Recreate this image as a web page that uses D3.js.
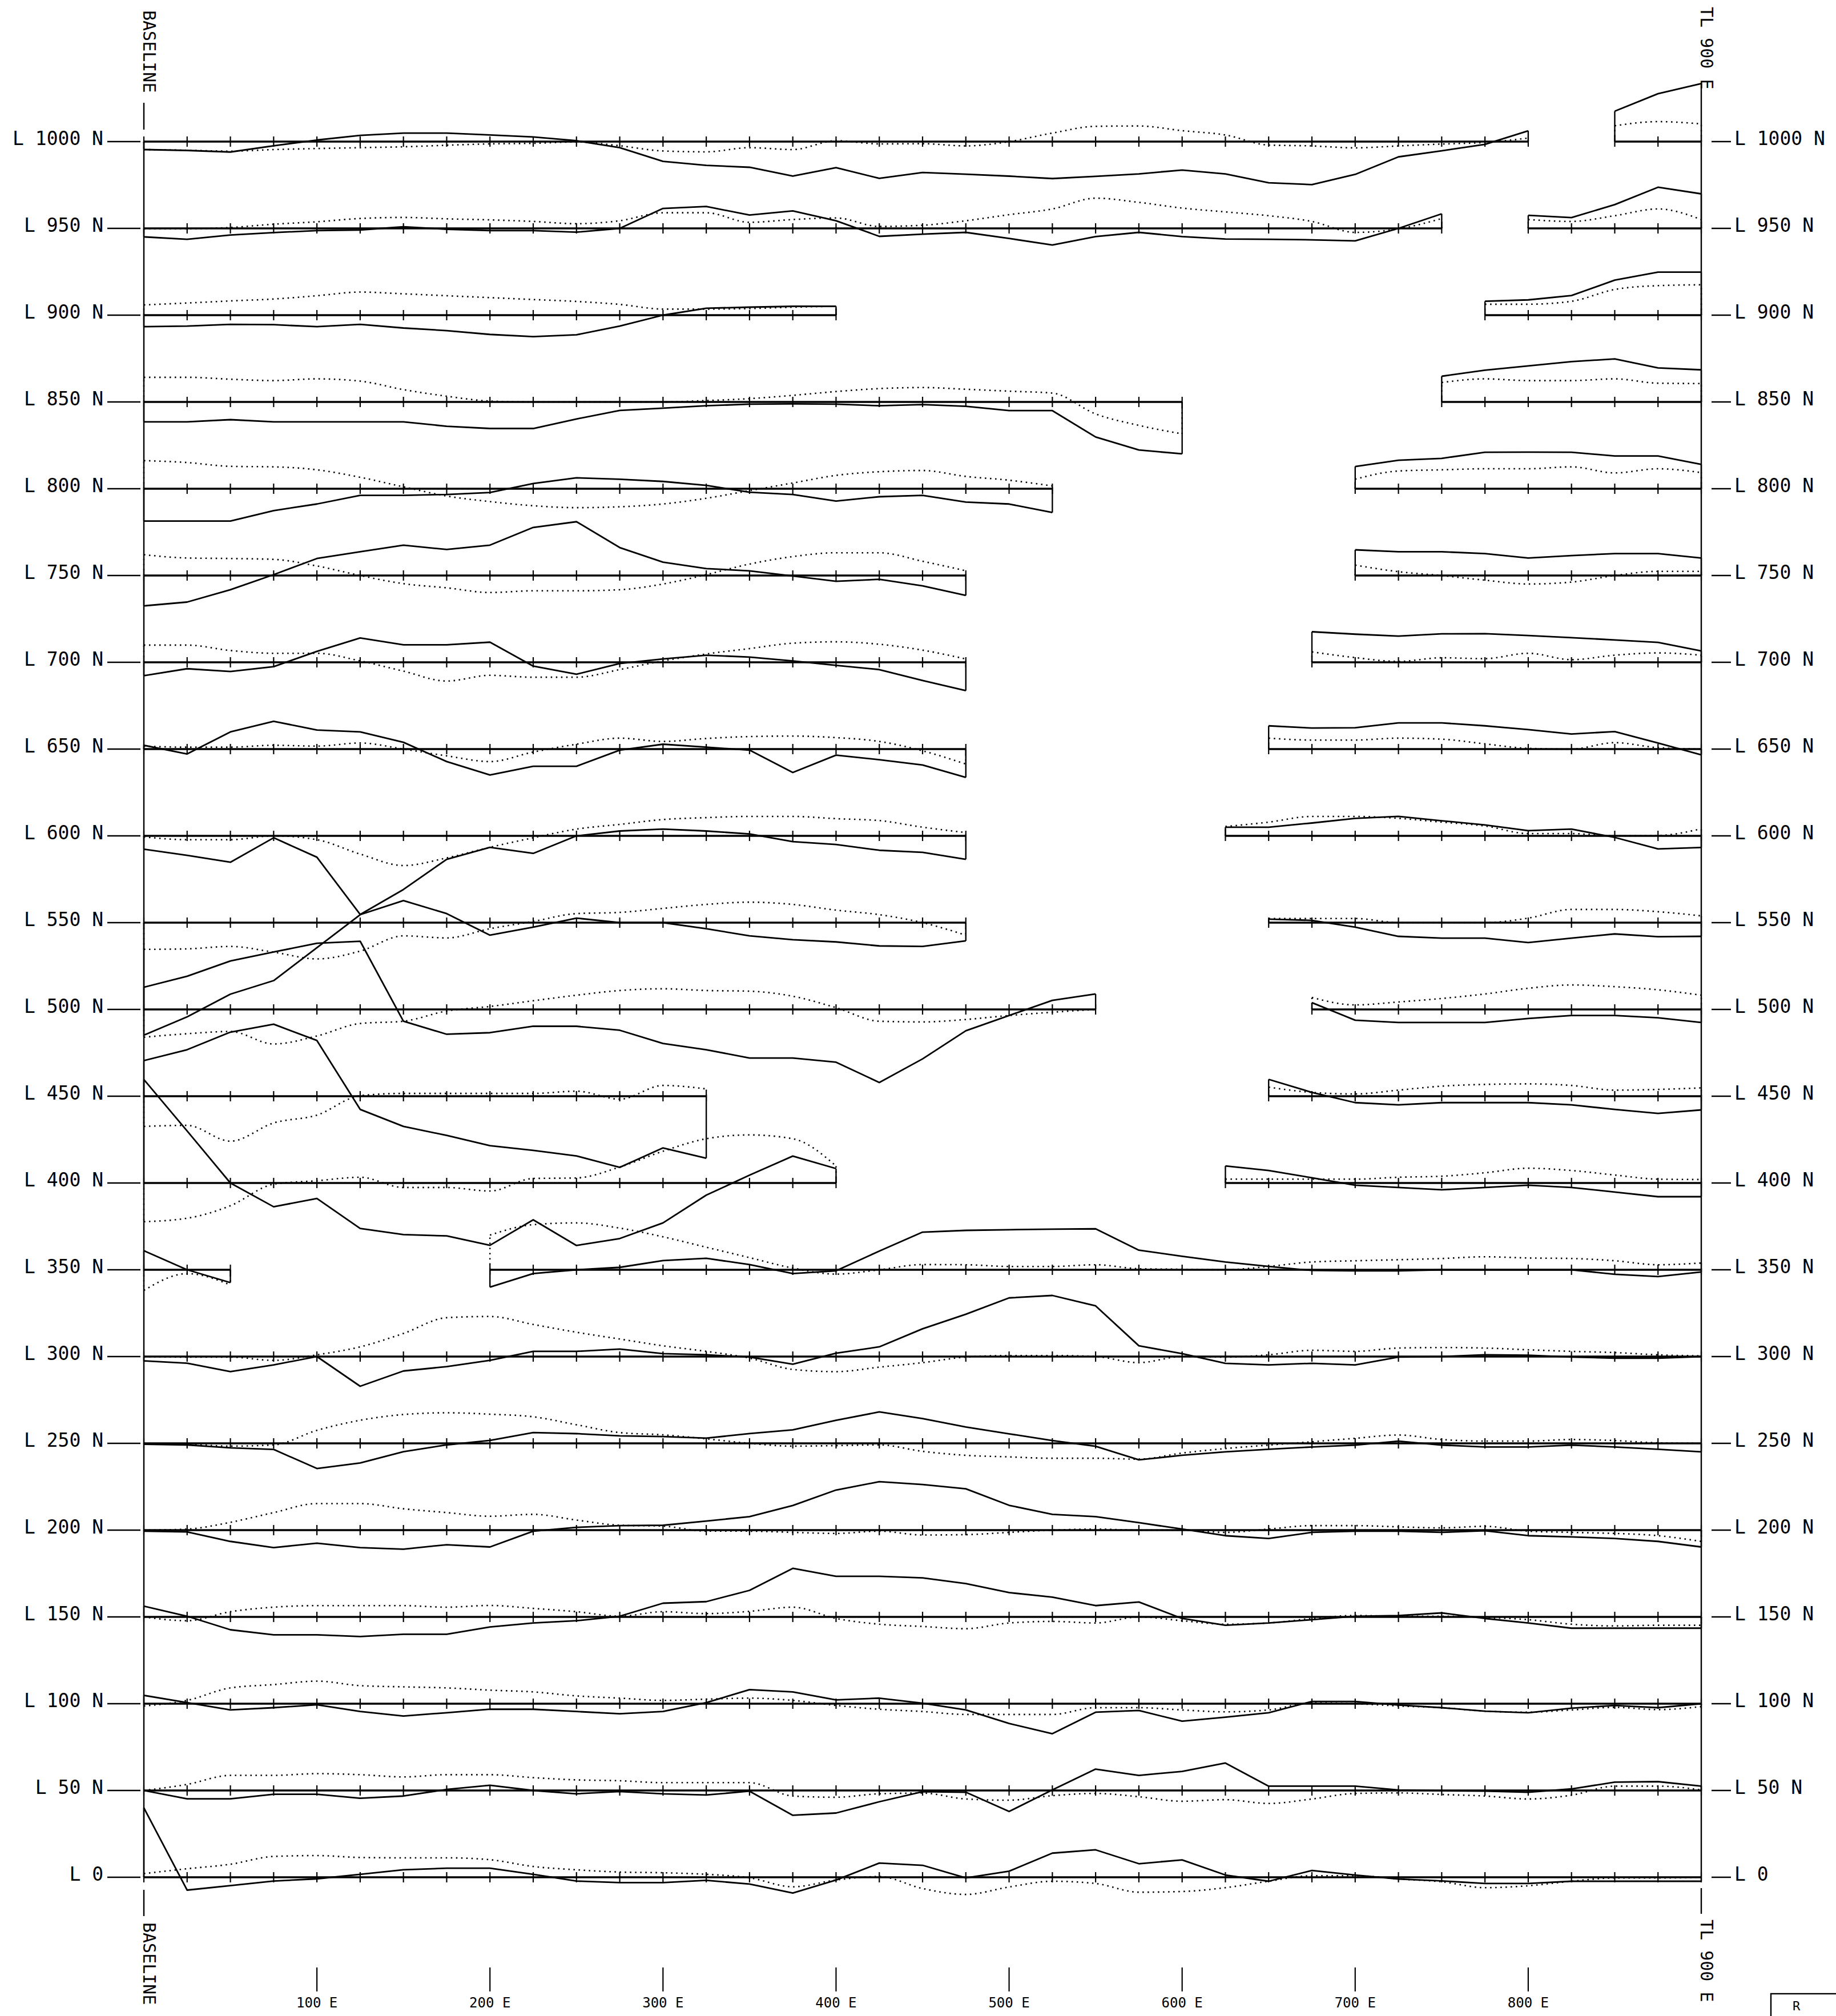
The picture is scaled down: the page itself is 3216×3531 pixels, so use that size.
<!DOCTYPE html>
<html>
<head>
<meta charset="utf-8">
<script src="https://cdn.jsdelivr.net/npm/d3@7"></script>
<style>
  body { margin: 0; background: #fff; }
  text { font-family: "DejaVu Sans Mono", monospace; fill: #000; }
</style>
</head>
<body>
<div id="chart"></div>
<script>
const width = 3216, height = 3531;

// survey grid
const northings = [1000, 950, 900, 850, 800, 750, 700, 650, 600, 550, 500, 450, 400, 350, 300, 250, 200, 150, 100, 50, 0];
const stations = d3.range(0, 901, 25);          // 25 m stations along each line, 0 E .. 900 E
const eastLabels = [100, 200, 300, 400, 500, 600, 700, 800];

// profile readings per line (null = not surveyed); one value per 25 m station
const sol1000 = [-4.6,-5.1,-6.0,-2.4,0.9,3.6,4.9,4.9,3.8,2.7, 0.5,-3.5,-11.4,-13.7,-14.8,-19.9,-15.0,-21.2,-17.8,-18.8, -19.9,-21.3,-20.0,-18.6,-16.4,-18.6,-23.7,-24.8,-18.9,-8.8, -5.3,-1.6,6.2,null,17.5,27.6,33.4];
const dot1000 = [-4.6,-5.0,-5.5,-4.6,-4.0,-3.5,-3.0,-2.1,-1.3,-1.0, -0.2,-2.4,-5.4,-5.9,-3.5,-4.6,0.5,-1.3,-1.2,-2.5, 0.0,4.9,8.8,9.0,6.3,3.8,-2.0,-2.5,-3.6,-2.5, -1.4,-0.5,2.0,null,9.1,11.5,10.2];
const sol950 = [-4.9,-6.3,-3.8,-2.4,-1.3,-0.9,0.9,-0.5,-1.3,-1.3, -2.2,0.0,11.5,12.6,7.7,10.1,4.4,-4.6,-3.3,-2.3, -5.8,-9.6,-4.7,-2.3,-4.7,-6.1,-6.3,-6.6,-7.2,0.0, 8.4,null,7.5,6.2,13.7,23.7,19.9];
const dot950 = [-0.2,-0.2,0.5,2.4,3.8,5.7,6.3,5.5,4.9,4.0, 2.7,4.4,9.0,9.0,3.5,5.1,6.0,1.1,1.8,4.4, 7.9,11.2,17.4,15.0,11.7,9.5,7.3,4.0,-2.3,-0.3, 5.7,null,5.1,4.0,7.3,11.2,5.1];
const sol900 = [-6.6,-6.3,-5.3,-5.5,-6.6,-5.3,-7.4,-8.9,-11.1,-12.4, -11.3,-6.3,0.0,4.0,4.6,5.1,5.1,null,null,null, null,null,null,null,null,null,null,null,null,null, null,8.0,8.8,11.3,20.2,24.8,24.8];
const dot900 = [5.9,7.0,8.2,9.3,11.2,13.3,12.3,11.2,10.1,9.0, 7.9,6.2,3.5,3.5,3.8,4.6,5.1,null,null,null, null,null,null,null,null,null,null,null,null,null, null,6.3,6.3,8.0,14.8,17.0,17.5];
const sol850 = [-11.5,-11.5,-10.2,-11.5,-11.5,-11.5,-11.5,-14.0,-15.3,-15.3, -9.8,-4.9,-3.6,-2.2,-1.3,-1.1,-1.3,-2.2,-1.5,-2.5, -5.0,-5.0,-20.2,-27.7,-29.9,null,null,null,null,null, 14.8,18.3,20.8,23.2,24.8,19.6,18.5];
const dot850 = [14.2,14.2,13.1,12.3,13.3,12.0,7.1,3.3,0.5,0.0, 0.0,0.0,0.0,0.8,1.9,3.8,6.0,7.7,8.3,7.3, 6.2,5.1,-6.9,-13.5,-18.4,null,null,null,null,null, 11.2,13.3,12.3,12.3,13.3,10.8,10.6];
const sol800 = [-18.6,-18.6,-18.6,-12.6,-8.8,-3.8,-3.8,-3.3,-2.2,3.0, 6.3,5.5,4.2,1.9,-2.0,-3.3,-7.1,-4.6,-3.8,-7.7, -8.8,-13.7,null,null,null,null,null,null,12.8,16.4, 17.5,21.0,21.1,21.0,18.9,18.9,14.0];
const dot800 = [16.2,15.1,12.9,12.6,10.9,6.6,1.1,-4.2,-7.4,-9.8, -10.9,-10.4,-8.8,-5.5,-1.1,3.3,7.7,9.8,10.5,7.1, 4.9,1.6,null,null,null,null,null,null,5.5,10.2, 10.9,11.5,11.5,12.6,9.1,11.5,9.3];
const sol750 = [-17.5,-15.3,-8.2,0.5,9.8,13.7,17.5,15.0,17.5,27.7, 31.0,16.1,7.7,4.0,2.7,-0.3,-3.3,-2.2,-6.0,-11.5, null,null,null,null,null,null,null,null,14.8,13.7, 13.7,12.6,10.1,11.5,12.6,12.6,10.1];
const dot750 = [12.0,10.1,9.8,9.3,5.5,0.0,-4.7,-7.1,-9.8,-8.8, -8.8,-8.2,-4.9,0.5,6.6,10.9,13.1,13.1,8.2,2.7, null,null,null,null,null,null,null,null,6.0,2.2, 0.0,-2.7,-4.9,-3.8,0.0,2.4,2.4];
const sol700 = [-7.7,-3.7,-5.3,-2.5,6.3,14.0,10.1,10.1,11.6,-2.2, -6.9,-0.7,1.9,4.1,3.0,0.8,-1.8,-4.2,-10.5,-16.3, null,null,null,null,null,null,null,17.6,16.2,15.1, 16.4,16.5,15.4,14.2,12.9,11.5,6.5];
const dot700 = [9.9,9.9,6.8,5.2,5.2,0.8,-5.1,-10.8,-7.5,-8.6, -8.6,-4.2,0.8,4.8,7.9,11.0,11.8,10.4,7.0,1.9, null,null,null,null,null,null,null,6.0,2.7,0.5, 2.6,2.1,5.2,1.5,4.1,5.4,4.1];
const sol650 = [2.2,-2.8,9.9,16.0,11.0,9.9,3.9,-7.2,-14.9,-9.9, -9.9,-0.6,2.8,1.1,-0.6,-13.5,-3.5,-6.1,-9.2,-16.3, null,null,null,null,null,null,13.4,12.1,12.3,15.1, 15.1,13.4,11.2,8.7,10.1,3.5,-3.3];
const dot650 = [1.7,1.1,1.1,2.2,1.7,3.5,0.0,-3.9,-7.2,-1.7, 2.8,6.3,4.4,6.1,7.2,7.5,6.6,4.4,-1.0,-8.6, null,null,null,null,null,null,6.3,5.2,5.2,6.3, 5.7,3.0,0.4,0.0,3.7,0.8,0.0];
const sol600 = [-7.7,-11.2,-15.2,-1.1,-12.3,-45.3,-30.9,-13.5,-6.6,-10.1, 0.0,2.8,3.9,2.8,1.1,-3.3,-5.0,-8.3,-9.5,-13.5, null,null,null,null,null,5.0,5.0,7.4,10.1,11.2, 8.7,6.3,3.0,3.9,-0.9,-7.5,-6.7];
const dot600 = [-0.6,-2.2,-2.2,0.0,-2.2,-10.5,-17.1,-12.7,-6.6,-1.1, 3.9,6.6,9.4,10.5,11.2,11.2,9.9,8.8,5.0,1.9, null,null,null,null,null,5.4,7.9,11.2,11.2,10.1, 7.9,5.7,1.3,1.3,0.0,0.2,4.1];
const sol550 = [-64.8,-54.3,-41.2,-33.4,-14.4,4.6,12.7,5.2,-7.2,-2.6, 2.6,0.0,0.0,-3.5,-7.6,-9.8,-11.1,-13.4,-13.7,-10.5, null,null,null,null,null,null,2.0,1.3,-2.6,-7.9, -8.9,-8.9,-11.5,-8.9,-6.5,-8.1,-7.9];
const dot550 = [-15.4,-15.1,-13.7,-17.0,-20.9,-16.4,-7.6,-8.8,-3.5,0.7, 5.2,5.9,8.2,10.5,11.8,10.5,7.2,4.6,0.0,-7.2, null,null,null,null,null,null,2.4,2.4,2.4,0.0, 0.0,0.0,2.6,7.6,7.6,6.3,3.9];
const sol500 = [12.8,19.1,27.9,33.1,38.1,39.3,-6.8,-14.3,-13.4,-9.7, -9.7,-12.0,-19.6,-23.2,-28.0,-28.0,-30.4,-42.1,-28.5,-12.3, -3.5,5.2,8.9,null,null,null,null,3.9,-6.2,-7.5, -7.5,-7.5,-5.2,-3.5,-3.5,-4.8,-7.5];
const dot500 = [-16.0,-14.0,-12.7,-19.9,-15.3,-8.1,-6.8,-0.9,1.7,5.0, 8.2,10.9,11.9,10.9,10.5,7.6,1.0,-6.8,-7.2,-5.8, -3.5,-1.6,0.0,null,null,null,null,6.9,2.6,4.3, 6.3,8.9,12.2,14.1,13.1,11.3,8.2];
const sol450 = [20.5,26.8,36.9,41.5,32.1,-7.6,-17.4,-22.6,-28.5,-31.2, -34.4,-41.0,-29.8,-35.7,null,null,null,null,null,null, null,null,null,null,null,null,9.7,2.2,-3.7,-5.0, -3.7,-3.7,-3.7,-5.0,-7.6,-9.9,-7.9];
const dot450 = [-17.4,-16.8,-25.9,-15.4,-10.9,0.3,1.6,1.6,1.6,1.6, 2.9,-1.7,6.2,4.2,null,null,null,null,null,null, null,null,null,null,null,null,5.2,2.2,1.3,3.5, 5.8,6.8,7.1,6.2,3.5,3.9,4.8];
const sol400 = [59.6,30.0,0.0,-13.7,-8.9,-26.2,-29.7,-30.5,-35.9,-21.2, -36.0,-32.0,-23.0,-7.0,4.5,15.5,8.3,null,null,null, null,null,null,null,null,9.8,7.2,3.0,-1.3,-2.6, -3.9,-2.6,-1.3,-2.6,-5.2,-7.9,-7.9];
const dot400 = [-22.3,-20.3,-13.1,-0.7,1.3,3.3,-2.6,-2.6,-4.6,2.6, 2.9,9.2,18.3,25.5,27.7,25.5,9.8,null,null,null, null,null,null,null,null,2.2,2.2,2.2,2.2,3.3, 3.9,5.9,8.5,7.2,4.6,2.2,2.0];
const sol350 = [11.0,0.0,-7.4,null,null,null,null,null,-10.0,-2.2, 0.0,1.4,5.3,6.6,3.0,-2.2,-0.6,10.8,21.7,22.7, 23.1,23.4,23.6,11.3,7.8,4.5,1.9,-0.4,-0.6,-0.6, 0.0,0.0,0.0,0.0,-2.6,-3.9,-1.3];
const dot350 = [-11.9,-2.2,-8.7,null,null,null,null,null,20.0,26.0, 27.0,24.0,19.0,13.0,7.0,1.0,-2.5,0.0,3.0,2.9, 1.9,1.9,2.9,0.6,0.3,0.0,1.9,4.5,5.2,5.8, 6.5,7.5,6.8,6.5,5.2,2.9,3.9];
const sol300 = [-2.5,-3.8,-8.7,-4.8,0.0,-17.1,-8.3,-5.8,-2.2,3.0, 3.0,4.3,1.7,1.0,-0.3,-4.4,1.9,5.6,16.0,24.4, 33.8,35.2,29.2,6.2,1.7,-3.9,-4.8,-3.9,-4.8,-0.3, 0.0,1.0,0.8,-0.3,-0.9,-0.9,0.0];
const dot300 = [0.0,-0.3,-0.3,-2.2,1.0,5.6,13.3,22.4,23.1,18.5, 14.0,10.1,6.2,3.0,-0.9,-7.4,-8.7,-6.1,-3.5,-0.3, 0.6,0.6,0.0,-3.5,0.0,-0.3,1.0,3.6,3.0,4.9, 5.2,4.9,3.9,3.0,2.3,1.0,0.4];
const sol250 = [-0.5,-0.9,-2.6,-3.5,-14.5,-11.3,-4.8,-0.9,1.7,6.2, 5.6,4.3,3.9,3.0,5.6,7.8,13.3,18.1,14.3,9.4, 5.5,1.6,-1.7,-9.5,-6.9,-4.9,-3.4,-2.1,-1.0,1.3, -1.0,-2.1,-2.1,-1.0,-2.1,-3.4,-4.9];
const dot250 = [0.0,-0.5,-1.6,-0.9,7.5,13.3,16.6,17.6,16.8,15.3, 10.7,6.2,4.9,2.6,0.0,-1.6,-1.3,-0.9,-4.6,-6.9, -7.8,-8.6,-8.6,-9.1,-5.6,-3.0,-1.0,0.9,2.9,4.8, 2.2,1.3,1.3,2.2,1.6,0.3,0.0];
const sol200 = [-0.6,-1.0,-6.5,-10.1,-7.5,-10.1,-11.0,-8.4,-9.7,-0.6, 1.6,2.6,2.8,5.2,7.8,14.2,23.1,27.9,26.3,23.8, 14.3,9.1,7.8,4.3,0.6,-3.2,-4.8,-1.3,-0.6,-0.6, -1.3,-0.4,-3.2,-3.9,-4.8,-6.5,-9.7];
const dot200 = [0.0,0.6,4.5,10.1,15.3,15.3,12.3,10.1,8.0,9.1, 5.8,2.8,2.3,-0.6,-0.6,-1.3,-1.9,-0.6,-2.8,-2.6, -1.3,0.0,0.6,0.0,0.0,-1.3,0.6,2.6,2.6,1.9, 1.3,2.2,-0.6,-1.3,-1.9,-3.2,-6.5];
const sol150 = [6.2,0.4,-7.4,-10.3,-10.3,-11.3,-10.0,-10.0,-5.8,-3.5, -2.2,0.4,7.9,8.8,15.3,28.0,23.4,23.4,22.5,19.2, 14.0,11.4,6.5,8.6,-0.9,-4.8,-3.5,-1.6,0.4,0.8, 2.3,-0.9,-3.5,-6.5,-6.5,-6.5,-6.5];
const dot150 = [0.0,-2.2,3.0,5.6,6.5,6.5,6.5,5.6,6.6,4.9, 3.0,0.4,3.0,1.9,3.2,5.6,-0.9,-4.2,-5.5,-6.8, -3.5,-2.6,-3.5,0.0,-2.2,-4.2,-3.5,-0.9,0.8,0.4, 0.4,-0.3,-1.6,-4.2,-5.2,-4.8,-4.8];
const sol100 = [4.8,0.6,-3.6,-2.3,-0.6,-4.5,-7.1,-5.2,-3.2,-3.2, -4.5,-5.8,-4.5,0.6,8.1,6.8,2.2,3.2,0.3,-3.6, -11.4,-17.3,-4.9,-3.9,-10.1,-7.8,-5.2,1.3,1.3,-0.8, -2.3,-4.3,-5.2,-2.6,-1.0,-2.3,0.0];
const dot100 = [-1.3,1.9,9.1,11.0,13.0,10.4,9.7,9.1,7.8,6.8, 4.5,3.2,1.9,2.6,3.2,1.9,-1.0,-3.2,-4.5,-6.2, -6.2,-6.2,-2.3,-2.3,-3.6,-4.7,-3.6,0.5,0.0,-1.3, -2.3,-4.3,-4.9,-3.6,-2.1,-3.4,-1.7];
const sol50 = [0.0,-4.8,-4.8,-2.2,-2.2,-4.5,-3.2,0.6,3.0,0.0, -1.9,-0.6,-1.9,-2.6,-0.4,-14.3,-13.0,-6.5,-0.7,-1.0, -12.1,0.3,12.3,8.7,11.0,15.8,2.5,2.5,2.5,0.3, -0.1,-0.4,-1.0,0.9,4.8,5.1,2.5];
const dot50 = [0.0,3.5,8.7,8.7,9.7,9.1,7.8,9.1,9.1,7.4, 6.1,5.6,4.5,4.5,4.5,-3.2,-3.9,-1.9,-1.5,-4.9, -5.6,-3.0,-1.7,-3.6,-6.2,-5.3,-7.5,-4.9,-1.7,-1.4, -2.3,-3.2,-4.9,-2.7,2.5,2.5,0.3];
const sol0 = [40.0,-7.4,-4.8,-2.2,-0.9,1.7,4.3,5.2,5.2,1.7, -2.2,-3.1,-3.1,-1.8,-3.9,-9.1,-1.6,8.2,6.9,-0.4, 3.5,13.9,15.8,7.8,10.0,1.3,-2.3,3.9,1.3,-1.0, -2.1,-3.6,-3.6,-2.3,-2.3,-2.3,-2.3];
const dot0 = [2.1,4.9,7.5,12.0,12.5,11.4,11.2,11.2,10.1,6.2, 4.3,3.0,2.6,1.7,-0.3,-5.5,-1.6,0.4,-6.5,-9.9, -5.6,-2.3,-3.6,-8.6,-8.2,-6.0,-2.3,0.9,0.9,-1.0, -2.6,-6.0,-4.9,-2.3,-0.4,-0.4,0.0];

const solids = [sol1000, sol950, sol900, sol850, sol800, sol750, sol700, sol650, sol600, sol550, sol500,
                sol450, sol400, sol350, sol300, sol250, sol200, sol150, sol100, sol50, sol0];
const dotteds = [dot1000, dot950, dot900, dot850, dot800, dot750, dot700, dot650, dot600, dot550, dot500,
                 dot450, dot400, dot350, dot300, dot250, dot200, dot150, dot100, dot50, dot0];

const svg = d3.select("#chart").append("svg")
    .attr("width", width)
    .attr("height", height)
    .attr("viewBox", `0 0 ${width} ${height}`);

svg.append("rect").attr("width", width).attr("height", height).attr("fill", "#fff");

const x = d3.scaleLinear().domain([0, 900]).range([252, 2980]);
const y = d3.scaleLinear().domain([0, 1000]).range([3288, 248]);
// profile amplitude: 50 units span one line interval
const amp = d3.scaleLinear().domain([0, 50]).range([0, y(50) - y(0)]);

// find surveyed pieces of a line (runs of non-null values)
function runs(arr) {
    const out = [];
    let start = null;
    arr.forEach((v, i) => {
        if (v != null && start === null) start = i;
        if (start !== null && (v == null || i === arr.length - 1)) {
            out.push([start, v == null ? i - 1 : i]);
            start = null;
        }
    });
    return out;
}

const black = "#000";

// frame: baseline (0 E) and tie line (900 E)
[0, 900].forEach(e => {
    svg.append("line")
        .attr("x1", x(e)).attr("x2", x(e))
        .attr("y1", y(1000)).attr("y2", y(0))
        .attr("stroke", black).attr("stroke-width", 2.4);
});
// little leaders next to the end captions
svg.append("line").attr("x1", x(0)).attr("x2", x(0)).attr("y1", 180).attr("y2", 227)
    .attr("stroke", black).attr("stroke-width", 2.4);
svg.append("line").attr("x1", x(0)).attr("x2", x(0)).attr("y1", 3310).attr("y2", 3356)
    .attr("stroke", black).attr("stroke-width", 2.4);
svg.append("line").attr("x1", x(900)).attr("x2", x(900)).attr("y1", 3307).attr("y2", 3352)
    .attr("stroke", black).attr("stroke-width", 2.4);

function vText(label, px, py) {
    svg.append("text")
        .attr("transform", `translate(${px},${py}) rotate(90)`)
        .attr("font-size", 30)
        .text(label);
}
vText("BASELINE", x(0) - 1, 18);
vText("BASELINE", x(0) - 1, 3367);
vText("TL 900 E", x(900) - 1, 12);
vText("TL 900 E", x(900) - 1, 3362);

const solidLine = d3.line().defined(d => d.v != null).x(d => x(d.e)).y(d => d.y0 + amp(d.v));
const dottedLine = d3.line().curve(d3.curveMonotoneX).defined(d => d.v != null).x(d => x(d.e)).y(d => d.y0 + amp(d.v));

northings.forEach((n, li) => {
    const solid = solids[li], dotted = dotteds[li];
    const y0 = y(n);
    const g = svg.append("g").attr("class", "line-" + n);

    // line labels both sides
    g.append("text").attr("x", 181).attr("y", y0 + 6).attr("text-anchor", "end")
        .attr("font-size", 33).text(n === 0 ? "L 0" : `L ${n} N`);
    g.append("line").attr("x1", 188).attr("x2", 246).attr("y1", y0).attr("y2", y0)
        .attr("stroke", black).attr("stroke-width", 2.4);
    g.append("line").attr("x1", 2998).attr("x2", 3032).attr("y1", y0).attr("y2", y0)
        .attr("stroke", black).attr("stroke-width", 2.4);
    g.append("text").attr("x", 3038).attr("y", y0 + 6)
        .attr("font-size", 33).text(n === 0 ? "L 0" : `L ${n} N`);

    runs(solid).forEach(([a, b]) => {
        const idx = d3.range(a, b + 1);
        // surveyed baseline
        g.append("line")
            .attr("x1", x(stations[a])).attr("x2", x(stations[b]))
            .attr("y1", y0).attr("y2", y0)
            .attr("stroke", black).attr("stroke-width", 3.4);
        // station ticks
        g.selectAll(null).data(idx).join("line")
            .attr("x1", i => x(stations[i])).attr("x2", i => x(stations[i]))
            .attr("y1", y0 - 9).attr("y2", y0 + 9)
            .attr("stroke", black).attr("stroke-width", 2.2);
        // end connectors back to the baseline
        [a, b].forEach(i => {
            g.append("line")
                .attr("x1", x(stations[i])).attr("x2", x(stations[i]))
                .attr("y1", y0).attr("y2", y0 + amp(solid[i]))
                .attr("stroke", black).attr("stroke-width", 2.4);
            g.append("line")
                .attr("x1", x(stations[i])).attr("x2", x(stations[i]))
                .attr("y1", y0).attr("y2", y0 + amp(dotted[i]))
                .attr("stroke", black).attr("stroke-width", 2.4)
                .attr("stroke-dasharray", "2.5 6.5");
        });

        g.append("path")
            .datum(idx.map(i => ({ e: stations[i], v: dotted[i], y0 })))
            .attr("d", dottedLine)
            .attr("fill", "none").attr("stroke", black)
            .attr("stroke-width", 2.6).attr("stroke-dasharray", "2.5 6.5");

        g.append("path")
            .datum(idx.map(i => ({ e: stations[i], v: solid[i], y0 })))
            .attr("d", solidLine)
            .attr("fill", "none").attr("stroke", black)
            .attr("stroke-width", 2.8).attr("stroke-linejoin", "round");
    });
});

// easting marks along the bottom
const eg = svg.append("g");
eg.selectAll("line").data(eastLabels).join("line")
    .attr("x1", d => x(d)).attr("x2", d => x(d))
    .attr("y1", 3446).attr("y2", 3488)
    .attr("stroke", black).attr("stroke-width", 2.2);
eg.selectAll("text").data(eastLabels).join("text")
    .attr("x", d => x(d)).attr("y", 3516)
    .attr("text-anchor", "middle").attr("font-size", 24)
    .text(d => `${d} E`);

// corner title box (cut off by the sheet edge)
svg.append("rect").attr("x", 3102).attr("y", 3492).attr("width", 140).attr("height", 60)
    .attr("fill", "none").attr("stroke", black).attr("stroke-width", 2.4);
svg.append("text").attr("x", 3140).attr("y", 3521).attr("font-size", 22).text("R");
</script>
</body>
</html>
